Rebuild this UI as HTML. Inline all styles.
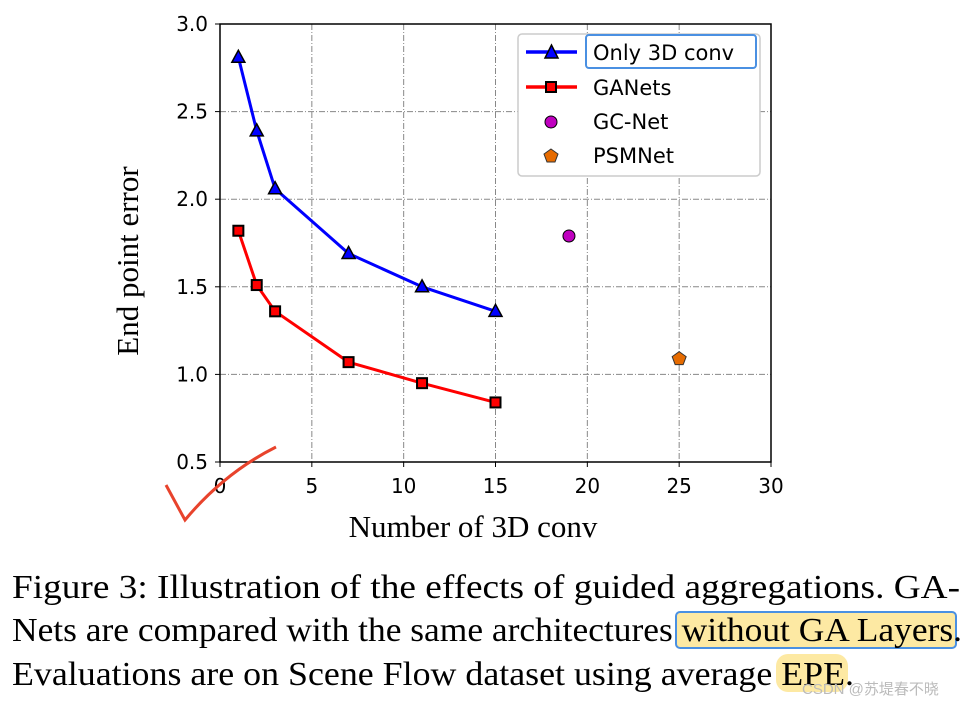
<!DOCTYPE html>
<html><head><meta charset="utf-8"><style>
body{margin:0;background:#fff;width:966px;height:705px;overflow:hidden}
svg{display:block}
</style></head><body>
<svg width="966" height="705" id="svg">
<g id="grid"></g>
<g id="series"></g>
<rect x="220" y="24" width="551" height="438" fill="none" stroke="#000" stroke-width="1.5"/>
<g id="ticks" font-family="DejaVu Sans, sans-serif" font-size="20"></g>
<text x="473" y="537" text-anchor="middle" font-family="Liberation Serif, serif" font-size="31">Number of 3D conv</text>
<text transform="translate(138,261) rotate(-90)" text-anchor="middle" font-family="Liberation Serif, serif" font-size="31">End point error</text>
<g font-family="DejaVu Sans, sans-serif" font-size="21">
<rect x="518" y="34" width="242" height="142" rx="4" fill="#fff" stroke="#ccc" stroke-width="1.5"/>
<line x1="526" y1="52" x2="577" y2="52" stroke="#0000ff" stroke-width="3.5"/>
<polygon points="551.5,45 545,58 558,58" fill="#0000ff" stroke="#000" stroke-width="1.5"/>
<text x="593" y="60">Only 3D conv</text>
<rect x="586" y="35" width="170" height="33" rx="3" fill="none" stroke="#4a90e2" stroke-width="2"/>
<line x1="526" y1="87" x2="577" y2="87" stroke="#ff0000" stroke-width="3.5"/>
<rect x="546" y="82" width="10" height="10" fill="#ff0000" stroke="#000" stroke-width="2"/>
<text x="593" y="95">GANets</text>
<circle cx="551" cy="122" r="6" fill="#bf00bf" stroke="#000" stroke-width="1"/>
<text x="593" y="129">GC-Net</text>
<polygon points="551,149 558,154 555,162 547,162 544,154" fill="#e66b00" stroke="#333" stroke-width="1"/>
<text x="593" y="163">PSMNet</text>
</g>
<path d="M166,485 L185,520 C210,490 240,465 276,447" fill="none" stroke="#e8432c" stroke-width="3"/>
<g font-family="Liberation Serif, serif" font-size="34">
<rect x="676" y="612" width="280" height="36" rx="4" fill="#fde9a3" stroke="#4a90e2" stroke-width="2"/>
<rect x="776" y="654" width="72" height="38" rx="12" fill="#fde9a3"/>
<text x="12" y="598" textLength="948" lengthAdjust="spacingAndGlyphs">Figure 3: Illustration of the effects of guided aggregations. GA-</text>
<text x="12" y="641" textLength="950" lengthAdjust="spacingAndGlyphs">Nets are compared with the same architectures without GA Layers.</text>
<text x="12" y="685" textLength="842" lengthAdjust="spacingAndGlyphs">Evaluations are on Scene Flow dataset using average EPE.</text>
<text x="802" y="694" font-family="Liberation Sans, Noto Sans CJK SC, sans-serif" font-size="15" fill="#bbb">CSDN @苏堤春不晓</text>
</g>
</svg>
<script>
const xTicks=[0,5,10,15,20,25,30];
const yTicks=[0.5,1.0,1.5,2.0,2.5,3.0];
const convCounts=[1,2,3,7,11,15];
const only3dValues=[2.81,2.39,2.06,1.69,1.50,1.36];
const ganetsValues=[1.82,1.51,1.36,1.07,0.95,0.84];
const gcnetPoint=[19,1.79];
const psmnetPoint=[25,1.09];
const NS='http://www.w3.org/2000/svg';
const X=v=>220+(v/30)*551, Y=v=>462-(v-0.5)/2.5*438;
function mk(t,a,p){const e=document.createElementNS(NS,t);for(const k in a)e.setAttribute(k,a[k]);p.appendChild(e);return e;}
const grid=document.getElementById('grid'),ticks=document.getElementById('ticks'),ser=document.getElementById('series');
xTicks.forEach(t=>{const x=X(t);
 if(t>0&&t<30){const l=mk('line',{x1:x,x2:x,y1:24,y2:462,stroke:'#888','stroke-width':1,'stroke-dasharray':'6,2,1,2'},grid);
 
 }
 mk('line',{x1:x,x2:x,y1:462,y2:467,stroke:'#000'},ticks);
 const s=mk('text',{x:x,y:493,'text-anchor':'middle'},ticks);s.textContent=t;
 
 });
yTicks.forEach(t=>{const y=Y(t);
 if(t>0.5&&t<3){const l=mk('line',{x1:220,x2:771,y1:y,y2:y,stroke:'#888','stroke-width':1,'stroke-dasharray':'6,2,1,2'},grid);
 
 }
 mk('line',{x1:215,x2:220,y1:y,y2:y,stroke:'#000'},ticks);
 const s=mk('text',{x:208,y:y+7,'text-anchor':'end'},ticks);s.textContent=t.toFixed(1);
 
 });
function line(vals,color,name){const pts=convCounts.map((c,i)=>X(c)+','+Y(vals[i])).join(' ');
 const p=mk('polyline',{points:pts,fill:'none',stroke:color,'stroke-width':3,'stroke-linejoin':'round'},ser);
 
 }
line(only3dValues,'#0000ff','only-3d-conv-line');
line(ganetsValues,'#ff0000','ganets-line');
convCounts.forEach((c,i)=>{const x=X(c),y=Y(only3dValues[i]);
 const m=mk('polygon',{points:`${x},${y-7} ${x-6.5},${y+5} ${x+6.5},${y+5}`,fill:'#0000ff',stroke:'#000','stroke-width':1.5},ser);
 
 
 const y2=Y(ganetsValues[i]);
 const r=mk('rect',{x:x-5,y:y2-5,width:10,height:10,fill:'#ff0000',stroke:'#000','stroke-width':2},ser);
 
 });
const g=mk('circle',{cx:X(gcnetPoint[0]),cy:Y(gcnetPoint[1]),r:6,fill:'#bf00bf',stroke:'#000','stroke-width':1},ser);


const px=X(psmnetPoint[0]),py=Y(psmnetPoint[1]);
const pp=mk('polygon',{points:`${px},${py-7} ${px+7},${py-2} ${px+4},${py+6} ${px-4},${py+6} ${px-7},${py-2}`,fill:'#e66b00',stroke:'#333','stroke-width':1},ser);


</script>
</body></html>
